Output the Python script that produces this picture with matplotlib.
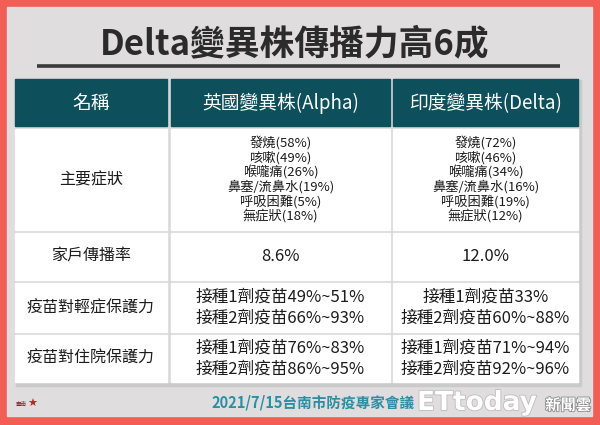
import matplotlib
matplotlib.use("Agg")
import matplotlib.pyplot as plt
from matplotlib.patches import Rectangle
import matplotlib.patheffects as pe

plt.rcParams['font.family'] = ['Noto Sans CJK TC', 'DejaVu Sans']

# ---- data ----
title = "Delta變異株傳播力高6成"
headers = ["名稱", "英國變異株(Alpha)", "印度變異株(Delta)"]
row_labels = ["主要症狀", "家戶傳播率", "疫苗對輕症保護力", "疫苗對住院保護力"]
alpha_symptoms = ["發燒(58%)", "咳嗽(49%)", "喉嚨痛(26%)", "鼻塞/流鼻水(19%)", "呼吸困難(5%)", "無症狀(18%)"]
delta_symptoms = ["發燒(72%)", "咳嗽(46%)", "喉嚨痛(34%)", "鼻塞/流鼻水(16%)", "呼吸困難(19%)", "無症狀(12%)"]
household = ["8.6%", "12.0%"]
mild_alpha = ["接種1劑疫苗49%~51%", "接種2劑疫苗66%~93%"]
mild_delta = ["接種1劑疫苗33%", "接種2劑疫苗60%~88%"]
hosp_alpha = ["接種1劑疫苗76%~83%", "接種2劑疫苗86%~95%"]
hosp_delta = ["接種1劑疫苗71%~94%", "接種2劑疫苗92%~96%"]
footer = "2021/7/15台南市防疫專家會議"

# ---- layout ----
W, H = 600, 425
fig = plt.figure(figsize=(6, 4.25), dpi=100, facecolor="#F25E56")
ax = fig.add_axes([0, 0, 1, 1])
ax.set_xlim(0, W)
ax.set_ylim(H, 0)
ax.axis("off")

ax.add_patch(Rectangle((7, 7), 585, 409, color="#DFDDDD", zorder=0))

ax.text(295, 44, title, ha="center", va="center", fontsize=25,
        fontweight="bold", color="#2B2B2B")
ax.plot([37, 560], [66, 66], color="#3A3A3A", lw=2.6, solid_capstyle="butt")

cols = [(15, 167), (171, 390), (393, 578)]
rows = [(79, 126), (129, 230), (233, 280), (283, 332), (335, 382)]

# shadow and gaps
ax.add_patch(Rectangle((16, 80), 565, 306, color="#CACACA", zorder=1))
ax.add_patch(Rectangle((15, 79), 563, 303, color="#D9D9D9", zorder=1))

for ri, (y0, y1) in enumerate(rows):
    for ci, (x0, x1) in enumerate(cols):
        fc = "#0D4F5B" if ri == 0 else "white"
        ax.add_patch(Rectangle((x0, y0), x1 - x0, y1 - y0, color=fc, zorder=2))

def cx(ci):
    return (cols[ci][0] + cols[ci][1]) / 2

def cy(ri):
    return (rows[ri][0] + rows[ri][1]) / 2

txt = "#1C1C1C"
for ci, h in enumerate(headers):
    ax.text(cx(ci), cy(0) + 1, h, ha="center", va="center", fontsize=13.5,
            fontweight="medium", color="white", zorder=3)

for ri, lab in enumerate(row_labels):
    ax.text(cx(0), cy(ri + 1), lab, ha="center", va="center", fontsize=11.5,
            fontweight="medium", color=txt, zorder=3)

def lines(ci, ri, items, pitch, fs):
    n = len(items)
    c = cy(ri)
    for k, s in enumerate(items):
        y = c + (k - (n - 1) / 2) * pitch
        ax.text(cx(ci), y, s, ha="center", va="center", fontsize=fs,
                fontweight="medium", color=txt, zorder=3)

lines(1, 1, alpha_symptoms, 14.6, 9.5)
lines(2, 1, delta_symptoms, 14.6, 9.5)
lines(1, 2, [household[0]], 20, 12)
lines(2, 2, [household[1]], 20, 12)
lines(1, 3, mild_alpha, 20.5, 12)
lines(2, 3, mild_delta, 20.5, 12)
lines(1, 4, hosp_alpha, 20.5, 12)
lines(2, 4, hosp_delta, 20.5, 12)

ax.text(313, 403, footer, ha="center", va="center", fontsize=10.5,
        fontweight="bold", color="#2A8FA3", zorder=3)

# watermark
wm = ax.text(417, 403, "ETtoday", ha="left", va="center", fontsize=19,
             fontweight="bold", color="white", family="DejaVu Sans", zorder=4)
wm.set_path_effects([pe.withStroke(linewidth=1.2, foreground="#BDBDBD")])
wm2 = ax.text(591, 405, "新聞雲", ha="right", va="center", fontsize=11,
              fontweight="bold", color="white", zorder=4)
wm2.set_path_effects([pe.withStroke(linewidth=1.2, foreground="#8A8A8A")])

# small emblem bottom-left
ax.text(16, 405, "臺南", ha="left", va="center", fontsize=4, color="#7A3030", zorder=3)
ax.text(27, 404, "★", ha="left", va="center", fontsize=8, color="#B02A2A",
        family="DejaVu Sans", zorder=3)

fig.savefig("out.png", dpi=100, facecolor=fig.get_facecolor())
